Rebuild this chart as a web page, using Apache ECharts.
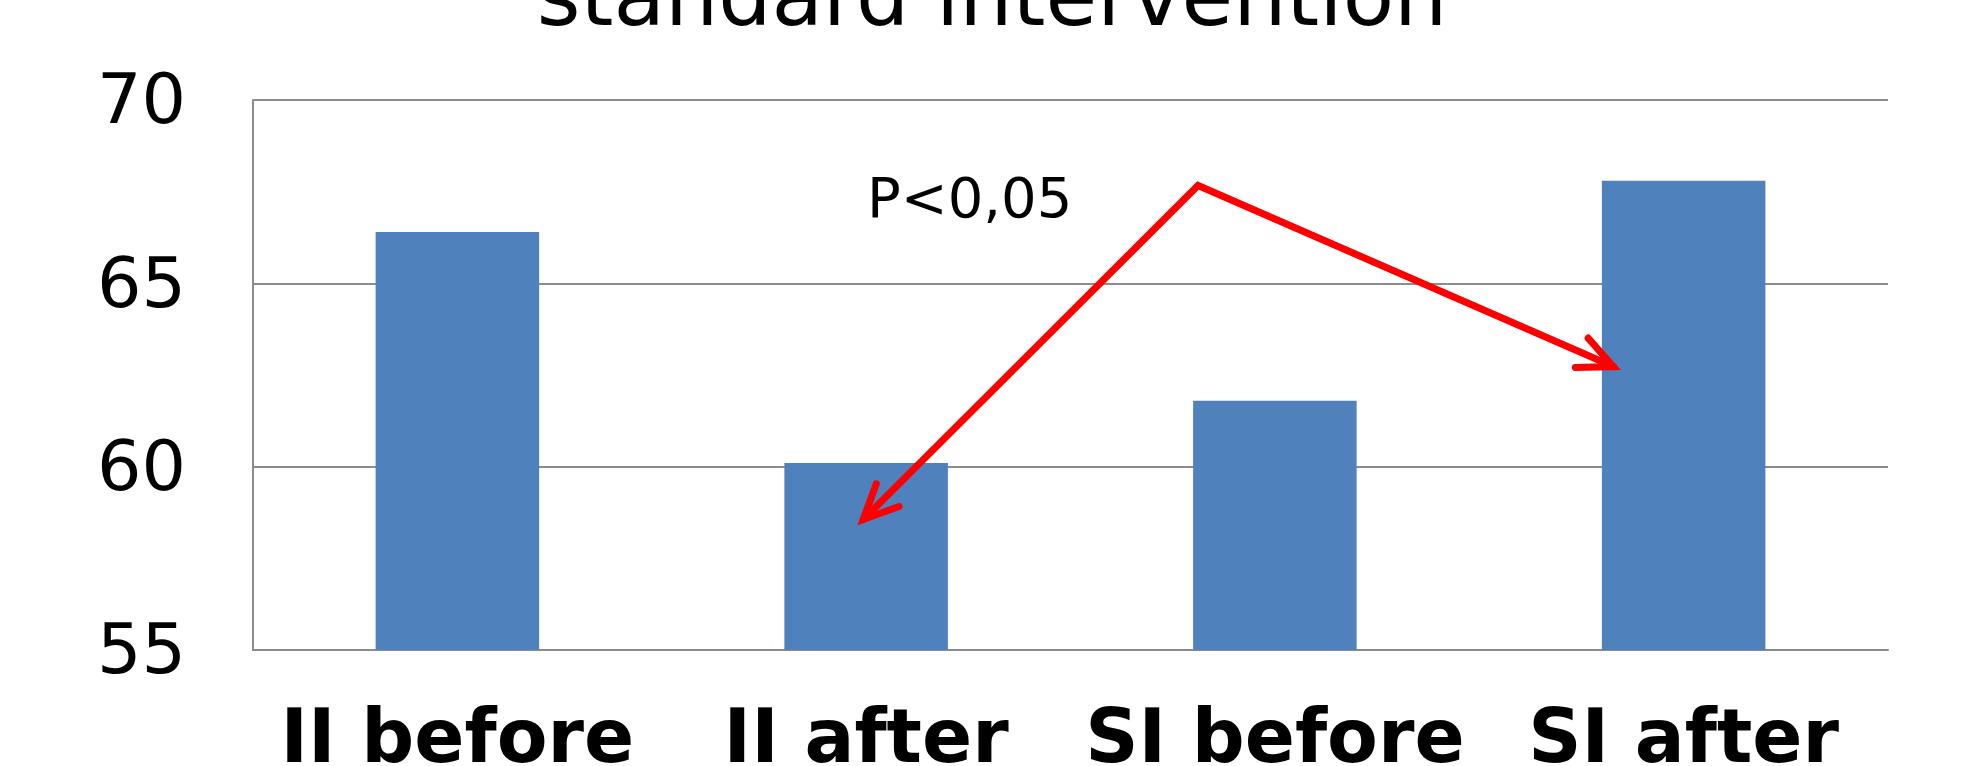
<!DOCTYPE html>
<html>
<head>
<meta charset="utf-8">
<title>standard intervention</title>
<script src="https://cdn.jsdelivr.net/npm/echarts@6/dist/echarts.min.js"></script>
<style>
  html, body { margin: 0; padding: 0; background: #fff; }
  #main { width: 1984px; height: 766px; }
</style>
</head>
<body>
<div id="main"></div>
<script>
// data
var categories = ['II before', 'II after', 'SI before', 'SI after'];
var values = [66.4, 60.1, 61.8, 67.8];
var yTicks = [55, 60, 65, 70];
// arrows, in data units of a hidden value x axis (-0.5 .. 3.5 lines up with the categories)
var arrowApex = [1.812, 67.67];
var arrowLeftTip = [0.993, 58.56];
var arrowRightTip = [2.828, 62.73];
var pText = 'P<0,05';

var chartDom = document.getElementById('main');
var myChart = echarts.init(chartDom);
var option;

option = {
  backgroundColor: '#ffffff',
  animation: false,
  textStyle: { fontFamily: 'DejaVu Sans' },
  title: {
    text: 'standard intervention',
    left: 'center',
    top: -44,
    textStyle: { fontFamily: 'DejaVu Sans', fontSize: 84, fontWeight: 'normal', color: '#000' }
  },
  grid: { left: 253, right: 96, top: 100, bottom: 116, containLabel: false, outerBoundsMode: 'none' },
  xAxis: [{
    type: 'category',
    data: categories,
    axisLine: { lineStyle: { color: '#8c8c8c', width: 2 } },
    axisTick: { show: false },
    axisLabel: {
      interval: 0,
      margin: 56,
      fontFamily: 'DejaVu Sans',
      fontSize: 74,
      fontWeight: 'bold',
      color: '#000'
    }
  }, {
    type: 'value',
    min: -0.5,
    max: 3.5,
    show: false
  }],
  yAxis: {
    type: 'value',
    min: yTicks[0],
    max: yTicks[yTicks.length - 1],
    interval: 5,
    axisLine: { show: true, onZero: false, lineStyle: { color: '#8c8c8c', width: 2 } },
    axisTick: { show: false },
    splitLine: { lineStyle: { color: '#8c8c8c', width: 2 } },
    axisLabel: {
      margin: 67,
      formatter: '{v|{value}}',
      rich: {
        v: { fontFamily: 'DejaVu Sans', fontSize: 70, color: '#000', padding: [10, 0, 0, 0] }
      }
    }
  },
  series: [{
    type: 'bar',
    data: values,
    barWidth: '40%',
    itemStyle: { color: '#4f81bd' },
    silent: true
  }, {
    // empty series that only carries the hidden axis for the arrows
    type: 'line',
    xAxisIndex: 1,
    data: [],
    silent: true
  }]
};

option && myChart.setOption(option);

// arrows + p value, placed through the chart's own axes
function arrowHead(tip, from) {
  var ang = Math.atan2(from[1] - tip[1], from[0] - tip[0]);
  var len = 38, spread = 25 * Math.PI / 180;
  return [
    [tip[0] + len * Math.cos(ang + spread), tip[1] + len * Math.sin(ang + spread)],
    tip,
    [tip[0] + len * Math.cos(ang - spread), tip[1] + len * Math.sin(ang - spread)]
  ];
}

var apex = myChart.convertToPixel({ seriesIndex: 1 }, arrowApex);
var tipL = myChart.convertToPixel({ seriesIndex: 1 }, arrowLeftTip);
var tipR = myChart.convertToPixel({ seriesIndex: 1 }, arrowRightTip);
var red = { stroke: '#ff0000', lineWidth: 7, lineCap: 'round', lineJoin: 'miter', fill: null };

myChart.setOption({
  graphic: [
    { type: 'polyline', silent: true, z: 10, shape: { points: [tipL, apex, tipR] }, style: red },
    { type: 'polyline', silent: true, z: 10, shape: { points: arrowHead(tipL, apex) }, style: red },
    { type: 'polyline', silent: true, z: 10, shape: { points: arrowHead(tipR, apex) }, style: red },
    {
      type: 'text',
      left: 867,
      top: 174,
      style: { text: pText, fontFamily: 'DejaVu Sans', fontSize: 56, fill: '#000' }
    }
  ]
});
</script>
</body>
</html>
